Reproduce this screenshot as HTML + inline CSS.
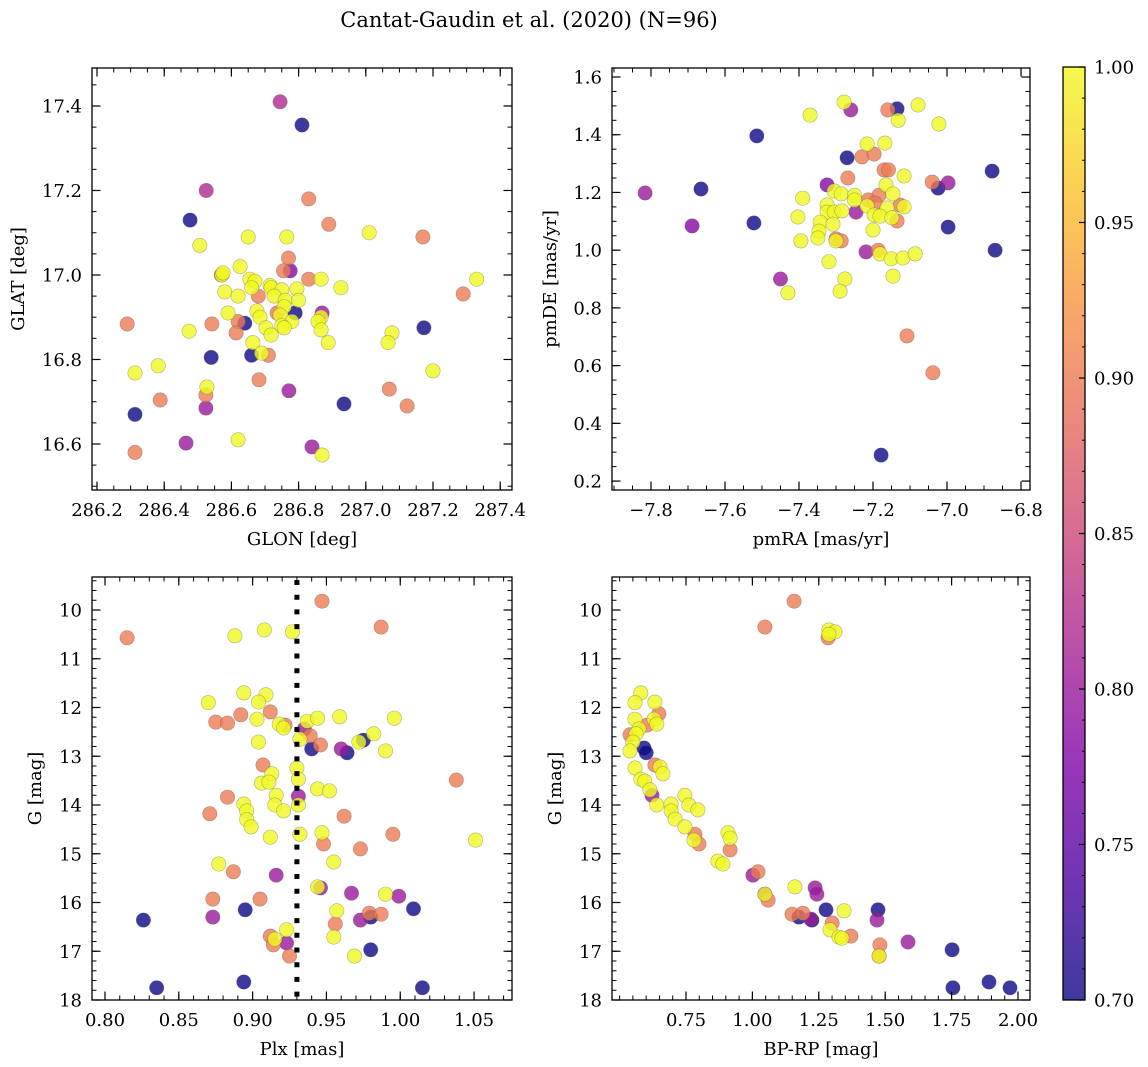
<!DOCTYPE html>
<html><head><meta charset="utf-8">
<style>
html,body{margin:0;padding:0;background:#fff;}
svg{display:block;font-family:"DejaVu Serif","Liberation Serif",serif;}
</style></head>
<body>
<svg id="fig" width="1148" height="1067" viewBox="0 0 1148 1067" xmlns="http://www.w3.org/2000/svg">
<text x="529" y="27" font-size="21" text-anchor="middle">Cantat-Gaudin et al. (2020) (N=96)</text>
</svg>
<script>
// ---- data: [x, y, membership probability] ----
const skyPoints = [
[286.745,17.41,0.82],[286.81,17.355,0.70],[286.525,17.20,0.82],[286.83,17.18,0.90],[286.477,17.13,0.70],
[286.89,17.12,0.90],[287.01,17.10,1],[287.17,17.09,0.90],[286.65,17.09,1],[286.765,17.09,1],
[286.506,17.07,1],[286.77,17.04,0.90],[286.775,17.01,0.78],[286.755,17.01,0.90],[286.626,17.02,1],
[286.57,17.0,0.90],[286.572,17.0,1],[286.575,17.005,1],[286.83,16.99,0.90],[286.867,16.99,1],[286.926,16.97,1],
[287.33,16.99,1],[287.29,16.955,0.90],[286.655,16.99,1],[286.67,16.985,1],[286.715,16.975,1],[286.718,16.97,1],
[286.66,16.97,1],[286.75,16.965,1],[286.795,16.967,1],[286.58,16.96,1],[286.62,16.95,1],
[286.68,16.95,0.90],[286.727,16.95,1],[286.76,16.94,1],[286.8,16.94,1],[286.757,16.925,1],
[286.676,16.915,1],[286.736,16.91,0.90],[286.79,16.91,0.70],[286.745,16.905,1],[286.87,16.91,0.80],
[286.867,16.9,1],[286.858,16.89,1],[286.685,16.9,1],[286.59,16.91,1],[286.64,16.886,0.70],
[286.62,16.89,0.90],[286.542,16.884,0.90],[286.29,16.884,0.90],[286.78,16.89,1],[286.75,16.88,1],
[286.757,16.875,1],[286.703,16.875,1],[286.867,16.87,1],[286.614,16.863,0.90],[286.718,16.858,1],
[286.474,16.867,1],[287.078,16.863,1],[287.066,16.84,1],[287.173,16.875,0.70],[286.888,16.84,1],
[286.664,16.84,1],[286.54,16.805,0.70],[286.66,16.81,0.70],[286.69,16.815,1],[286.71,16.81,0.90],
[286.313,16.768,1],[286.382,16.785,1],[287.2,16.773,1],[286.527,16.735,1],[286.524,16.716,0.90],
[286.524,16.685,0.80],[286.682,16.752,0.90],[286.771,16.726,0.80],[287.07,16.73,0.90],[287.123,16.69,0.90],
[286.935,16.695,0.70],[286.388,16.704,0.90],[286.313,16.67,0.70],[286.465,16.602,0.80],[286.313,16.58,0.90],
[286.62,16.61,1],[286.84,16.593,0.80],[286.87,16.574,1]
];
const pmPoints = [
[-7.816,1.198,0.80],[-7.689,1.084,0.78],[-7.665,1.212,0.70],[-7.522,1.094,0.70],[-7.514,1.396,0.70],
[-7.45,0.90,0.80],[-7.43,0.852,1],[-7.37,1.468,1],[-7.39,1.18,1],[-7.403,1.115,1],[-7.395,1.032,1],
[-7.278,1.513,1],[-7.26,1.486,0.80],[-7.16,1.486,0.90],[-7.135,1.49,0.70],[-7.132,1.45,1],[-7.078,1.503,1],
[-7.022,1.437,1],[-7.27,1.32,0.70],[-7.216,1.368,1],[-7.168,1.371,1],[-7.23,1.323,0.90],[-7.197,1.333,0.90],
[-7.17,1.278,0.90],[-7.158,1.278,0.90],[-7.116,1.257,1],[-6.878,1.274,0.70],[-7.04,1.236,0.90],
[-6.997,1.233,0.80],[-7.024,1.215,0.70],[-6.997,1.08,0.70],[-6.87,1.0,0.70],[-7.324,1.226,0.78],
[-7.268,1.25,0.90],[-7.305,1.205,1],[-7.286,1.195,1],[-7.25,1.19,1],[-7.25,1.174,1],[-7.324,1.157,1],
[-7.184,1.19,0.90],[-7.165,1.226,1],[-7.146,1.195,1],[-7.213,1.174,0.90],[-7.216,1.153,1],[-7.195,1.163,0.90],
[-7.162,1.146,1],[-7.127,1.156,0.90],[-7.116,1.15,1],[-7.324,1.132,1],[-7.305,1.132,1],[-7.284,1.136,1],
[-7.246,1.132,0.80],[-7.197,1.122,1],[-7.181,1.118,1],[-7.149,1.112,1],[-7.135,1.101,0.90],[-7.343,1.097,1],
[-7.308,1.09,1],[-7.346,1.066,1],[-7.349,1.042,1],[-7.3,1.039,0.90],[-7.286,1.032,0.90],[-7.3,1.032,1],
[-7.2,1.07,1],[-7.219,0.994,0.80],[-7.186,1.0,0.90],[-7.181,0.987,1],[-7.151,0.97,1],[-7.119,0.973,1],
[-7.086,0.987,1],[-7.319,0.96,1],[-7.146,0.91,1],[-7.276,0.9,1],[-7.289,0.858,1],[-7.108,0.703,0.90],
[-7.038,0.575,0.90],[-7.178,0.29,0.70]
];
const plxPoints = [
[0.947,9.82,0.90],[0.987,10.35,0.90],[0.815,10.57,0.90],[0.888,10.53,1],[0.908,10.41,1],[0.927,10.45,1],
[0.894,11.70,1],[0.909,11.74,1],[0.87,11.9,1],[0.904,11.89,1],[0.892,12.15,0.90],[0.912,12.09,0.90],
[0.875,12.3,0.90],[0.883,12.32,0.90],[0.903,12.24,1],[0.918,12.34,1],[0.921,12.42,1],[0.922,12.36,0.90],
[0.937,12.28,1],[0.944,12.22,1],[0.959,12.19,1],[0.996,12.22,1],[0.935,12.44,0.80],[0.939,12.58,0.90],
[0.932,12.65,1],[0.904,12.71,1],[0.94,12.85,0.70],[0.946,12.77,0.90],[0.975,12.67,0.70],[0.972,12.71,1],
[0.982,12.54,1],[0.96,12.85,0.80],[0.964,12.93,0.70],[0.99,12.89,1],[0.907,13.18,0.90],[0.93,13.24,1],
[0.913,13.36,1],[0.931,13.47,1],[0.906,13.55,1],[0.911,13.53,1],[1.038,13.49,0.90],[0.944,13.67,1],
[0.952,13.71,1],[0.931,13.82,0.80],[0.883,13.84,0.90],[0.916,13.8,1],[0.894,13.98,1],[0.915,14.0,1],
[0.931,14.0,1],[0.896,14.12,1],[0.921,14.12,1],[0.871,14.18,0.90],[0.896,14.3,1],[0.899,14.45,1],
[0.962,14.23,0.90],[0.912,14.66,1],[0.932,14.6,1],[0.947,14.57,1],[0.995,14.6,0.90],[1.051,14.72,1],
[0.948,14.8,0.90],[0.973,14.9,0.90],[0.877,15.21,1],[0.955,15.17,1],[0.887,15.37,0.90],[0.916,15.44,0.80],
[0.946,15.7,0.80],[0.944,15.68,1],[0.967,15.81,0.80],[0.99,15.83,1],[0.999,15.87,0.80],[0.873,15.93,0.90],
[0.905,15.93,0.90],[0.895,16.15,0.70],[1.009,16.13,0.70],[0.826,16.36,0.70],[0.873,16.3,0.80],[0.957,16.17,1],
[0.979,16.22,0.90],[0.987,16.24,0.90],[0.98,16.3,0.70],[0.973,16.36,0.80],[0.956,16.44,0.90],[0.923,16.56,1],
[0.912,16.69,0.90],[0.914,16.87,0.90],[0.915,16.75,1],[0.923,16.83,0.80],[0.955,16.71,1],[0.925,17.1,0.90],
[0.98,16.97,0.70],[0.969,17.1,1],[0.835,17.75,0.70],[0.894,17.63,0.70],[1.015,17.75,0.70]
];
const cmdPoints = [
[1.157,9.82,0.90],[1.047,10.35,0.90],[1.288,10.41,1],[1.311,10.45,1],[1.285,10.57,0.90],[1.288,10.5,1],
[0.58,11.7,1],[0.558,11.9,1],[0.633,11.89,1],[0.558,12.24,1],[0.648,12.13,0.90],[0.63,12.24,1],[0.64,12.34,1],
[0.603,12.36,0.90],[0.539,12.56,0.90],[0.573,12.44,1],[0.562,12.54,1],[0.55,12.71,1],[0.592,12.83,0.70],
[0.6,12.93,0.70],[0.539,12.89,1],[0.558,13.24,1],[0.633,13.18,0.90],[0.652,13.22,1],[0.663,13.36,1],
[0.58,13.47,1],[0.595,13.51,1],[0.622,13.8,0.80],[0.614,13.69,1],[0.64,14.0,1],[0.746,13.8,1],[0.761,14.0,1],
[0.795,14.1,1],[0.694,13.98,1],[0.694,14.12,1],[0.709,14.29,1],[0.746,14.45,1],[0.784,14.6,0.90],
[0.799,14.8,0.90],[0.78,14.72,1],[0.908,14.57,1],[0.916,14.68,1],[0.916,14.92,0.90],[0.87,15.15,1],
[0.889,15.21,1],[1.002,15.44,0.80],[1.021,15.37,0.90],[1.047,15.83,0.80],[1.047,15.83,1],[1.059,15.95,0.90],
[1.16,15.68,1],[1.236,15.7,0.80],[1.243,15.83,0.80],[1.149,16.24,0.90],[1.19,16.22,0.90],[1.175,16.3,0.70],
[1.22,16.34,0.80],[1.224,16.36,0.70],[1.277,16.15,0.70],[1.345,16.17,1],[1.3,16.42,0.90],[1.292,16.56,1],
[1.326,16.71,1],[1.337,16.73,1],[1.371,16.69,0.90],[1.473,16.15,0.70],[1.469,16.36,0.80],[1.586,16.81,0.80],
[1.48,16.87,0.90],[1.477,17.1,0.90],[1.477,17.1,1],[1.752,16.97,0.70],[1.755,17.75,0.70],[1.891,17.63,0.70],
[1.97,17.75,0.70]
];
const plxCut = [0.930];
const skyXTicks = [286.2,286.4,286.6,286.8,287.0,287.2,287.4];
const skyYTicks = [16.6,16.8,17.0,17.2,17.4];
const pmXTicks = [-7.8,-7.6,-7.4,-7.2,-7.0,-6.8];
const pmYTicks = [0.2,0.4,0.6,0.8,1.0,1.2,1.4,1.6];
const plxXTicks = [0.80,0.85,0.90,0.95,1.00,1.05];
const gTicks = [10,11,12,13,14,15,16,17,18];
const bprpTicks = [0.75,1.00,1.25,1.50,1.75,2.00];
const cbarTicks = [0.70,0.75,0.80,0.85,0.90,0.95,1.00];

const NS='http://www.w3.org/2000/svg';
const svg=document.getElementById('fig');
const FS=18;
function mk(tag,attrs,parent){const e=document.createElementNS(NS,tag);for(const k in attrs)e.setAttribute(k,attrs[k]);(parent||svg).appendChild(e);return e;}

const plasma=[[13,8,135],[76,2,161],[126,3,168],[168,34,150],[204,71,120],[230,108,92],[248,149,64],[253,197,39],[240,249,33]];
function cmap(v){let t=(v-0.7)/0.3;t=Math.max(0,Math.min(1,t));const f=t*8;const i=Math.min(7,Math.floor(f));const u=f-i;
const a=plasma[i],b=plasma[i+1];return 'rgb('+[0,1,2].map(k=>Math.round(a[k]+(b[k]-a[k])*u)).join(',')+')';}
function lin(d0,d1,r0,r1){return v=>r0+(v-d0)/(d1-d0)*(r1-r0);}

function panel(name,box,xd,yd,xt,xmin,yt,ymin,xfmt,yfmt,xlabel,ylabel,pts,ylOff){
  const [L,T,R,B]=box;
  const sx=lin(xd[0],xd[1],L,R), sy=lin(yd[0],yd[1],B,T);
  const g=mk('g',{});
  
  
  const sorted=pts.slice().sort((a,b)=>a[2]-b[2]);
  for(const p of sorted){
    const c=mk('circle',{cx:sx(p[0]).toFixed(1),cy:sy(p[1]).toFixed(1),r:7.2,fill:cmap(p[2]),'fill-opacity':0.8,stroke:'#555','stroke-opacity':0.45,'stroke-width':0.6},g);
    
    
  }
  const fr=mk('rect',{x:L,y:T,width:R-L,height:B-T,fill:'none',stroke:'#000','stroke-width':1.3},g);
  
  
  const xlo=Math.min(xd[0],xd[1]),xhi=Math.max(xd[0],xd[1]);
  for(let v=Math.ceil(xlo/xmin-1e-6)*xmin;v<=xhi+1e-9;v+=xmin){const x=sx(v);
    mk('line',{x1:x,x2:x,y1:B,y2:B-4.5,stroke:'#000','stroke-width':1},g);mk('line',{x1:x,x2:x,y1:T,y2:T+4.5,stroke:'#000','stroke-width':1},g);}
  const ylo=Math.min(yd[0],yd[1]),yhi=Math.max(yd[0],yd[1]);
  for(let v=Math.ceil(ylo/ymin-1e-6)*ymin;v<=yhi+1e-9;v+=ymin){const y=sy(v);
    mk('line',{x1:L,x2:L+4.5,y1:y,y2:y,stroke:'#000','stroke-width':1},g);mk('line',{x1:R,x2:R-4.5,y1:y,y2:y,stroke:'#000','stroke-width':1},g);}
  for(const v of xt){const x=sx(v);
    mk('line',{x1:x,x2:x,y1:B,y2:B-8.5,stroke:'#000','stroke-width':1.2},g);mk('line',{x1:x,x2:x,y1:T,y2:T+8.5,stroke:'#000','stroke-width':1.2},g);
    const t=mk('text',{x:x,y:B+26,'font-size':FS,'text-anchor':'middle'},g);t.textContent=xfmt(v);
    
    }
  for(const v of yt){const y=sy(v);
    mk('line',{x1:L,x2:L+8.5,y1:y,y2:y,stroke:'#000','stroke-width':1.2},g);mk('line',{x1:R,x2:R-8.5,y1:y,y2:y,stroke:'#000','stroke-width':1.2},g);
    const t=mk('text',{x:L-10,y:y+6.5,'font-size':FS,'text-anchor':'end'},g);t.textContent=yfmt(v);
    
    }
  const xl=mk('text',{x:(L+R)/2,y:B+55,'font-size':FS,'text-anchor':'middle'},g);xl.textContent=xlabel;
  
  
  const ylx=L-ylOff, yly=(T+B)/2;
  const yl=mk('text',{x:ylx,y:yly,'font-size':FS,'text-anchor':'middle',transform:'rotate(-90 '+ylx+' '+yly+')'},g);yl.textContent=ylabel;
  
  
  return {sx,sy,g};
}
const f1=v=>v.toFixed(1), f2=v=>v.toFixed(2), f0=v=>String(v);
const fm=v=>(v<0?'\u2212':'')+Math.abs(v).toFixed(1);
panel('sky',[92,68,512,490],[286.1851,287.4351],[16.4911,17.4899],skyXTicks,0.05,skyYTicks,0.05,f1,f1,'GLON [deg]','GLAT [deg]',skyPoints,68);
panel('proper-motion',[612,68,1030,490],[-7.9054,-6.7757],[0.1690,1.6312],pmXTicks,0.05,pmYTicks,0.05,fm,f1,'pmRA [mas/yr]','pmDE [mas/yr]',pmPoints,56);
const p3=panel('parallax',[92,577,512,1000],[0.7912,1.0757],[18.0,9.323],plxXTicks,0.01,gTicks,0.2,f2,f0,'Plx [mas]','G [mag]',plxPoints,51);
panel('cmd',[612,577,1030,1000],[0.4714,2.0452],[18.0,9.323],bprpTicks,0.05,gTicks,0.2,f2,f0,'BP-RP [mag]','G [mag]',cmdPoints,51);
for(const v of plxCut){const x=p3.sx(v);
  const ln=mk('line',{x1:x,x2:x,y1:580,y2:1000,stroke:'#000','stroke-width':5,'stroke-dasharray':'5 9.7'});
  
  }
const defs=mk('defs',{});
const gr=mk('linearGradient',{id:'cbg',x1:0,y1:1,x2:0,y2:0},defs);
for(let i=0;i<=20;i++){mk('stop',{offset:(i/20),'stop-color':cmap(0.7+0.3*i/20),'stop-opacity':0.8},gr);}
const cb=mk('g',{});


mk('rect',{x:1063,y:67,width:22,height:933,fill:'url(#cbg)',stroke:'#000','stroke-width':1.3},cb);
const cy=lin(0.7,1.0,1000,67);
for(let i=0;i<=30;i++){const v=0.7+i*0.01;const y=cy(v);mk('line',{x1:1085,x2:1082,y1:y,y2:y,stroke:'#000','stroke-width':1},cb);}
for(const v of cbarTicks){const y=cy(v);mk('line',{x1:1085,x2:1079,y1:y,y2:y,stroke:'#000','stroke-width':1.2},cb);
  const t=mk('text',{x:1094,y:y+6.5,'font-size':FS},cb);t.textContent=v.toFixed(2);
  
  }
</script>
</body></html>
